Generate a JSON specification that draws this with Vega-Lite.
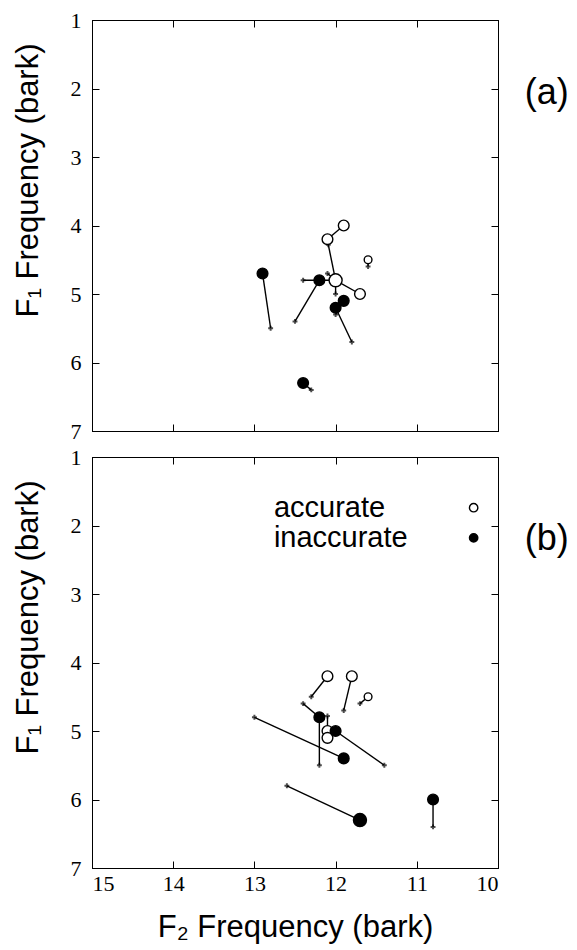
{
  "$schema": "https://vega.github.io/schema/vega-lite/v6.json",
  "background": "white",
  "padding": {"left": 11, "top": 8, "right": 5, "bottom": 5},
  "bounds": "flush",
  "spacing": 26,
  "datasets": {
    "points": [
      {"panel": "a", "group": "accurate", "f2": 11.9, "f1": 4.0, "count": 2},
      {"panel": "a", "group": "accurate", "f2": 12.1, "f1": 4.2, "count": 2},
      {"panel": "a", "group": "accurate", "f2": 12.0, "f1": 4.8, "count": 3},
      {"panel": "a", "group": "accurate", "f2": 11.7, "f1": 5.0, "count": 2},
      {"panel": "a", "group": "accurate", "f2": 11.6, "f1": 4.5, "count": 1},
      {"panel": "a", "group": "inaccurate", "f2": 12.9, "f1": 4.7, "count": 2},
      {"panel": "a", "group": "inaccurate", "f2": 12.2, "f1": 4.8, "count": 2},
      {"panel": "a", "group": "inaccurate", "f2": 11.9, "f1": 5.1, "count": 2},
      {"panel": "a", "group": "inaccurate", "f2": 12.0, "f1": 5.2, "count": 2},
      {"panel": "a", "group": "inaccurate", "f2": 12.4, "f1": 6.3, "count": 2},
      {"panel": "b", "group": "accurate", "f2": 12.1, "f1": 4.2, "count": 2},
      {"panel": "b", "group": "accurate", "f2": 11.8, "f1": 4.2, "count": 2},
      {"panel": "b", "group": "accurate", "f2": 11.6, "f1": 4.5, "count": 1},
      {"panel": "b", "group": "accurate", "f2": 12.1, "f1": 5.0, "count": 2},
      {"panel": "b", "group": "accurate", "f2": 12.1, "f1": 5.1, "count": 2},
      {"panel": "b", "group": "inaccurate", "f2": 12.2, "f1": 4.8, "count": 2},
      {"panel": "b", "group": "inaccurate", "f2": 12.0, "f1": 5.0, "count": 2},
      {"panel": "b", "group": "inaccurate", "f2": 11.9, "f1": 5.4, "count": 2},
      {"panel": "b", "group": "inaccurate", "f2": 11.7, "f1": 6.3, "count": 3},
      {"panel": "b", "group": "inaccurate", "f2": 10.8, "f1": 6.0, "count": 2}
    ],
    "segments": [
      {"panel": "a", "f2": 11.9, "f1": 4.0, "f2_to": 12.1, "f1_to": 4.2},
      {"panel": "a", "f2": 12.0, "f1": 4.8, "f2_to": 12.09, "f1_to": 4.28},
      {"panel": "a", "f2": 12.0, "f1": 4.8, "f2_to": 12.4, "f1_to": 4.8},
      {"panel": "a", "f2": 12.0, "f1": 4.8, "f2_to": 12.0, "f1_to": 5.0},
      {"panel": "a", "f2": 12.0, "f1": 4.8, "f2_to": 12.1, "f1_to": 4.7},
      {"panel": "a", "f2": 11.7, "f1": 5.0, "f2_to": 12.0, "f1_to": 4.8},
      {"panel": "a", "f2": 11.6, "f1": 4.5, "f2_to": 11.6, "f1_to": 4.6},
      {"panel": "a", "f2": 12.9, "f1": 4.7, "f2_to": 12.8, "f1_to": 5.5},
      {"panel": "a", "f2": 12.2, "f1": 4.8, "f2_to": 12.5, "f1_to": 5.4},
      {"panel": "a", "f2": 12.0, "f1": 5.2, "f2_to": 11.8, "f1_to": 5.7},
      {"panel": "a", "f2": 11.9, "f1": 5.1, "f2_to": 12.0, "f1_to": 5.3},
      {"panel": "a", "f2": 12.4, "f1": 6.3, "f2_to": 12.3, "f1_to": 6.4},
      {"panel": "b", "f2": 12.1, "f1": 4.2, "f2_to": 12.3, "f1_to": 4.5},
      {"panel": "b", "f2": 11.8, "f1": 4.2, "f2_to": 11.9, "f1_to": 4.7},
      {"panel": "b", "f2": 11.6, "f1": 4.5, "f2_to": 11.7, "f1_to": 4.6},
      {"panel": "b", "f2": 12.1, "f1": 5.0, "f2_to": 12.1, "f1_to": 4.78},
      {"panel": "b", "f2": 12.1, "f1": 5.1, "f2_to": 12.1, "f1_to": 5.0},
      {"panel": "b", "f2": 12.2, "f1": 4.8, "f2_to": 12.2, "f1_to": 5.5},
      {"panel": "b", "f2": 12.2, "f1": 4.8, "f2_to": 12.4, "f1_to": 4.6},
      {"panel": "b", "f2": 12.0, "f1": 5.0, "f2_to": 11.4, "f1_to": 5.5},
      {"panel": "b", "f2": 11.9, "f1": 5.4, "f2_to": 13.0, "f1_to": 4.8},
      {"panel": "b", "f2": 11.7, "f1": 6.3, "f2_to": 12.6, "f1_to": 5.8},
      {"panel": "b", "f2": 10.8, "f1": 6.0, "f2_to": 10.8, "f1_to": 6.4}
    ],
    "legend": [
      {"panel": "b", "group": "accurate", "f2_text": 12.76, "f2_sym": 10.3, "f1": 1.74},
      {"panel": "b", "group": "inaccurate", "f2_text": 12.76, "f2_sym": 10.3, "f1": 2.18}
    ],
    "tags": [
      {"panel": "a", "tag": "(a)", "f2": 9.4, "f1": 2.07},
      {"panel": "b", "tag": "(b)", "f2": 9.4, "f1": 2.19}
    ]
  },
  "config": {
    "view": {"stroke": "black", "strokeWidth": 1},
    "axis": {
      "grid": false,
      "domainColor": "black",
      "tickColor": "black",
      "tickSize": -7,
      "tickWidth": 1,
      "labelFont": "Liberation Serif",
      "labelFontSize": 22,
      "labelColor": "black",
      "titleFont": "Liberation Sans",
      "titleFontSize": 31,
      "titleFontWeight": "normal",
      "titleColor": "black"
    }
  },
  "vconcat": [
    {
      "width": 406,
      "height": 411,
      "resolve": {"axis": {"x": "independent", "y": "independent"}},
      "layer": [
        {
          "data": {"name": "segments"},
          "transform": [{"filter": "datum.panel === 'a'"}],
          "mark": {"type": "rule", "color": "black", "strokeWidth": 1.4},
          "encoding": {
            "x": {"field": "f2", "type": "quantitative", "scale": {"domain": [10, 15], "reverse": true, "nice": false, "zero": false},
                  "axis": {"values": [10, 11, 12, 13, 14, 15], "labels": false, "title": null, "orient": "bottom"}},
            "y": {"field": "f1", "type": "quantitative", "scale": {"domain": [1, 7], "reverse": true, "nice": false, "zero": false},
                  "axis": {"values": [1, 2, 3, 4, 5, 6, 7], "title": "F₁ Frequency (bark)", "orient": "left", "labelPadding": 18, "titlePadding": 26, "titleY": 160}},
            "x2": {"field": "f2_to"},
            "y2": {"field": "f1_to"}
          }
        },
        {
          "data": {"name": "segments"},
          "transform": [{"filter": "datum.panel === 'a'"}],
          "mark": {"type": "point", "shape": "cross", "size": 24, "filled": true, "color": "black"},
          "encoding": {
            "x": {"field": "f2_to", "type": "quantitative", "axis": {"values": [10, 11, 12, 13, 14, 15], "labels": false, "title": null, "orient": "top"}},
            "y": {"field": "f1_to", "type": "quantitative", "axis": {"values": [1, 2, 3, 4, 5, 6, 7], "labels": false, "title": null, "orient": "right"}}
          }
        },
        {
          "data": {"name": "points"},
          "transform": [{"filter": "datum.panel === 'a'"}],
          "mark": {"type": "point", "shape": "circle", "stroke": "black", "strokeWidth": 1.4, "opacity": 1},
          "encoding": {
            "x": {"field": "f2", "type": "quantitative", "axis": null},
            "y": {"field": "f1", "type": "quantitative", "axis": null},
            "fill": {"field": "group", "type": "nominal", "scale": {"domain": ["accurate", "inaccurate"], "range": ["white", "black"]}, "legend": null},
            "size": {"field": "count", "type": "quantitative", "scale": {"domain": [1, 3], "range": [60, 170]}, "legend": null}
          }
        },
        {
          "data": {"name": "tags"},
          "transform": [{"filter": "datum.panel === 'a'"}],
          "mark": {"type": "text", "font": "Liberation Sans", "fontSize": 36, "align": "center", "baseline": "middle", "color": "black"},
          "encoding": {
            "x": {"field": "f2", "type": "quantitative", "axis": null},
            "y": {"field": "f1", "type": "quantitative", "axis": null},
            "text": {"field": "tag"}
          }
        }
      ]
    },
    {
      "width": 406,
      "height": 411,
      "resolve": {"axis": {"x": "independent", "y": "independent"}},
      "layer": [
        {
          "data": {"name": "segments"},
          "transform": [{"filter": "datum.panel === 'b'"}],
          "mark": {"type": "rule", "color": "black", "strokeWidth": 1.4},
          "encoding": {
            "x": {"field": "f2", "type": "quantitative", "scale": {"domain": [10, 15], "reverse": true, "nice": false, "zero": false},
                  "axis": {"values": [10, 11, 12, 13, 14, 15], "title": "F₂ Frequency (bark)", "orient": "bottom", "labelPadding": 12, "titlePadding": 18}},
            "y": {"field": "f1", "type": "quantitative", "scale": {"domain": [1, 7], "reverse": true, "nice": false, "zero": false},
                  "axis": {"values": [1, 2, 3, 4, 5, 6, 7], "title": "F₁ Frequency (bark)", "orient": "left", "labelPadding": 18, "titlePadding": 26, "titleY": 160}},
            "x2": {"field": "f2_to"},
            "y2": {"field": "f1_to"}
          }
        },
        {
          "data": {"name": "segments"},
          "transform": [{"filter": "datum.panel === 'b'"}],
          "mark": {"type": "point", "shape": "cross", "size": 24, "filled": true, "color": "black"},
          "encoding": {
            "x": {"field": "f2_to", "type": "quantitative", "axis": {"values": [10, 11, 12, 13, 14, 15], "labels": false, "title": null, "orient": "top"}},
            "y": {"field": "f1_to", "type": "quantitative", "axis": {"values": [1, 2, 3, 4, 5, 6, 7], "labels": false, "title": null, "orient": "right"}}
          }
        },
        {
          "data": {"name": "points"},
          "transform": [{"filter": "datum.panel === 'b'"}],
          "mark": {"type": "point", "shape": "circle", "stroke": "black", "strokeWidth": 1.4, "opacity": 1},
          "encoding": {
            "x": {"field": "f2", "type": "quantitative", "axis": null},
            "y": {"field": "f1", "type": "quantitative", "axis": null},
            "fill": {"field": "group", "type": "nominal", "scale": {"domain": ["accurate", "inaccurate"], "range": ["white", "black"]}, "legend": null},
            "size": {"field": "count", "type": "quantitative", "scale": {"domain": [1, 3], "range": [60, 170]}, "legend": null}
          }
        },
        {
          "data": {"name": "legend"},
          "mark": {"type": "text", "font": "Liberation Sans", "fontSize": 29, "align": "left", "baseline": "middle", "color": "black"},
          "encoding": {
            "x": {"field": "f2_text", "type": "quantitative", "axis": null},
            "y": {"field": "f1", "type": "quantitative", "axis": null},
            "text": {"field": "group"}
          }
        },
        {
          "data": {"name": "legend"},
          "mark": {"type": "point", "shape": "circle", "stroke": "black", "strokeWidth": 1.4, "opacity": 1, "size": 70},
          "encoding": {
            "x": {"field": "f2_sym", "type": "quantitative", "axis": null},
            "y": {"field": "f1", "type": "quantitative", "axis": null},
            "fill": {"field": "group", "type": "nominal", "legend": null}
          }
        },
        {
          "data": {"name": "tags"},
          "transform": [{"filter": "datum.panel === 'b'"}],
          "mark": {"type": "text", "font": "Liberation Sans", "fontSize": 36, "align": "center", "baseline": "middle", "color": "black"},
          "encoding": {
            "x": {"field": "f2", "type": "quantitative", "axis": null},
            "y": {"field": "f1", "type": "quantitative", "axis": null},
            "text": {"field": "tag"}
          }
        }
      ]
    }
  ]
}
